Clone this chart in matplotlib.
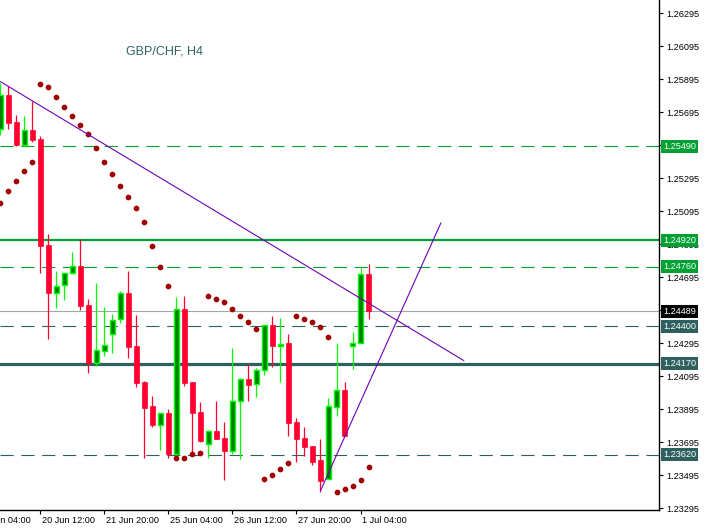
import numpy as np
import matplotlib
matplotlib.use('Agg')
import matplotlib.pyplot as plt
import matplotlib.transforms as mtransforms

plt.rcParams['font.family'] = ['Liberation Sans', 'DejaVu Sans']
plt.rcParams['lines.scale_dashes'] = False

# GBP/CHF H4 candles, index 0..46
opens = [1.25594, 1.25800, 1.25637, 1.25497, 1.25588, 1.25534, 1.24891, 1.24602, 1.24647, 1.24723,
         1.24764, 1.24528, 1.24174, 1.24251, 1.24350, 1.24441, 1.24602, 1.24279, 1.24061, 1.23915,
         1.23802, 1.23871, 1.23624, 1.24501, 1.24061, 1.23879, 1.23683, 1.23762, 1.23721, 1.23644,
         1.23944, 1.24081, 1.24047, 1.24133, 1.24406, 1.24281, 1.24299, 1.23818, 1.23721, 1.23673,
         1.23588, 1.23473, 1.23911, 1.24012, 1.24279, 1.24295, 1.24715]
highs = [1.25873, 1.25857, 1.25679, 1.25673, 1.25766, 1.25552, 1.24958, 1.24734, 1.24729, 1.24849,
         1.24926, 1.24564, 1.24663, 1.24517, 1.24473, 1.24614, 1.24734, 1.24467, 1.24067, 1.23976,
         1.23871, 1.23895, 1.24574, 1.24582, 1.24061, 1.23940, 1.23770, 1.23946, 1.23818, 1.24267,
         1.24087, 1.24170, 1.24146, 1.24404, 1.24461, 1.24449, 1.24352, 1.23844, 1.23790, 1.23673,
         1.23715, 1.23964, 1.24299, 1.24063, 1.24366, 1.24756, 1.24776]
lows = [1.25558, 1.25596, 1.25491, 1.25491, 1.25517, 1.24723, 1.24320, 1.24511, 1.24558, 1.24715,
        1.24497, 1.24117, 1.24158, 1.24218, 1.24235, 1.24417, 1.24204, 1.24032, 1.23602, 1.23790,
        1.23649, 1.23598, 1.23618, 1.24036, 1.23629, 1.23697, 1.23602, 1.23717, 1.23467, 1.23624,
        1.23596, 1.23947, 1.23968, 1.24101, 1.24153, 1.24063, 1.23735, 1.23578, 1.23614, 1.23558,
        1.23392, 1.23473, 1.23855, 1.23735, 1.24140, 1.24295, 1.24443]
closes = [1.25800, 1.25632, 1.25497, 1.25588, 1.25528, 1.24887, 1.24602, 1.24643, 1.24720, 1.24764,
          1.24523, 1.24174, 1.24255, 1.24283, 1.24437, 1.24598, 1.24275, 1.24057, 1.23905, 1.23800,
          1.23871, 1.23624, 1.24501, 1.24057, 1.23875, 1.23703, 1.23762, 1.23717, 1.23644, 1.23944,
          1.24081, 1.24044, 1.24133, 1.24404, 1.24281, 1.24291, 1.23814, 1.23717, 1.23669, 1.23578,
          1.23463, 1.23915, 1.24012, 1.23735, 1.24295, 1.24715, 1.24489]

# parabolic SAR
sar = [1.25144, 1.25218, 1.25279, 1.25340, 1.25394, 1.25867, 1.25851, 1.25788, 1.25728, 1.25673,
       1.25618, 1.25564, 1.25479, 1.25394, 1.25321, 1.25249, 1.25182, 1.25115, 1.25031, 1.24887,
       1.24760, 1.24643, 1.23598, 1.23598, 1.23624, 1.23632, 1.24582, 1.24564, 1.24546, 1.24503,
       1.24461, 1.24424, 1.24382, 1.23473, 1.23497, 1.23534, 1.23570, 1.24463, 1.24443, 1.24424,
       1.24394, 1.24334, 1.23394, 1.23412, 1.23431, 1.23467, 1.23546]

# horizontal levels
levels = [1.25490, 1.24920, 1.24760, 1.24400, 1.24170, 1.23620]
level_colors = ['#00a032', '#00a032', '#00a032', '#2f6060', '#2f6060', '#2f6060']
level_solid = [False, True, False, False, True, False]
level_widths = [0.8, 1.6, 0.8, 0.8, 2.3, 0.8]

# trend lines (bar index, price)
down_x = [0, 57.9]
down_y = [1.25881, 1.24191]
up_x = [40, 55.04]
up_y = [1.23402, 1.25024]

# time axis
time_idx = [-3, 5, 13, 21, 29, 37, 45]
time_labels = ['19 Jun 04:00', '20 Jun 12:00', '21 Jun 20:00', '25 Jun 04:00',
               '26 Jun 12:00', '27 Jun 20:00', '1 Jul 04:00']

price_ticks = [1.26295, 1.26095, 1.25895, 1.25695, 1.25495, 1.25295, 1.25095, 1.24895,
               1.24695, 1.24495, 1.24295, 1.24095, 1.23895, 1.23695, 1.23495, 1.23295]
# these two sit fully under the level boxes on the chart
hidden_ticks = [1.25495, 1.24495]

fig = plt.figure(figsize=(7.04, 5.31), dpi=100)
ax = fig.add_axes([0, 21 / 531, 659 / 704, 510 / 531])
ax.set_xlim(-0.06, 82.31)
ax.set_ylim(1.23285, 1.26376)

x = np.arange(len(opens))
o = np.array(opens)
c = np.array(closes)
bull = c >= o

# wicks
ax.vlines(x[bull], np.array(lows)[bull], np.array(highs)[bull], color='#00ff00', lw=0.9, zorder=3)
ax.vlines(x[~bull], np.array(lows)[~bull], np.array(highs)[~bull], color='#ff0030', lw=0.9, zorder=3)
# bodies
body_lo = np.minimum(o, c)
body_h = np.maximum(np.abs(c - o), 0.00003)
ax.bar(x[bull], body_h[bull], bottom=body_lo[bull], width=0.56, color='#008000',
       edgecolor='#00ff00', linewidth=1.0, zorder=4)
ax.bar(x[~bull], body_h[~bull], bottom=body_lo[~bull], width=0.62, color='#ff0030',
       edgecolor='#ff0030', linewidth=0.5, zorder=4)

ax.plot(x, sar, 'o', color='#a00000', markersize=3.1, zorder=5)

ax.plot(down_x, down_y, color='#7000b8', lw=0.8, zorder=6)
ax.plot(up_x, up_y, color='#7000b8', lw=0.8, zorder=6)

trans = mtransforms.blended_transform_factory(ax.transAxes, ax.transData)
for lv, col, solid, w in zip(levels, level_colors, level_solid, level_widths):
    ls = '-' if solid else (0, (9.5, 5.5))
    ax.axhline(lv, color=col, lw=w, ls=ls, zorder=2)
    ax.text(1.0 + 4 / 659, lv, f'{lv:.5f}', transform=trans, ha='left', va='center',
            color='white', fontsize=6.6, zorder=10, clip_on=False,
            bbox=dict(boxstyle='square,pad=0.22', fc=col, ec='none'))

cur = closes[-1]
ax.axhline(cur, color='#a0a8a8', lw=0.8, zorder=2)
ax.text(1.0 + 4 / 659, cur, f'{cur:.5f}', transform=trans, ha='left', va='center',
        color='white', fontsize=6.6, zorder=10, clip_on=False,
        bbox=dict(boxstyle='square,pad=0.22', fc='black', ec='none'))

ax.text(126 / 659, 1 - 52 / 510, 'GBP/CHF, H4', transform=ax.transAxes, ha='left', va='center',
        color='#2f6464', fontsize=9)

# axes cosmetics
for s in ['top', 'left']:
    ax.spines[s].set_visible(False)
ax.spines['right'].set_linewidth(1.0)
ax.spines['bottom'].set_linewidth(1.0)
ax.yaxis.tick_right()
ax.set_yticks(price_ticks)
ax.set_yticklabels(['' if t in hidden_ticks else f'{t:.5f}' for t in price_ticks])
ax.tick_params(axis='y', direction='out', length=3, width=0.8, pad=2, labelsize=6.6)
ax.set_xticks([t for t in time_idx if t >= 0])
ax.set_xticklabels([])
ax.tick_params(axis='x', direction='out', length=3, width=0.8)

xtrans = mtransforms.blended_transform_factory(ax.transData, ax.transAxes)
for t, lab in zip(time_idx, time_labels):
    ax.text(t + 0.15, -6 / 510, lab, transform=xtrans, ha='left', va='top',
            fontsize=6.6, clip_on=False)

fig.savefig('out.png', dpi=100)
